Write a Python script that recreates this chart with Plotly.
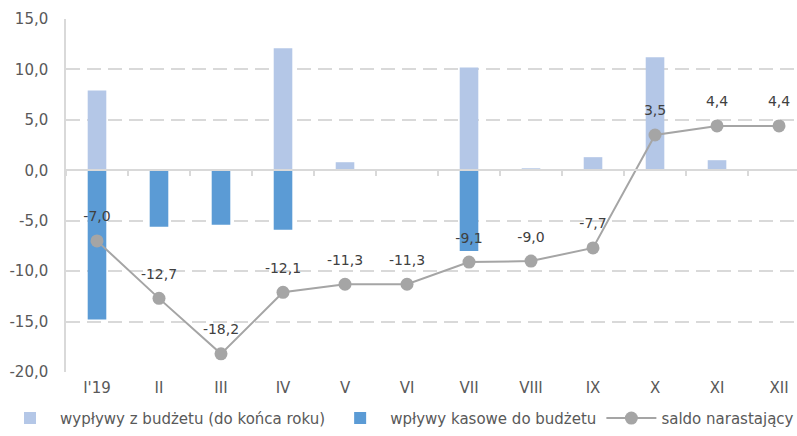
import plotly.graph_objects as go

categories = ["I'19", "II", "III", "IV", "V", "VI", "VII", "VIII", "IX", "X", "XI", "XII"]
outflows = [7.9, 0, 0, 12.1, 0.8, 0, 10.2, 0.2, 1.3, 11.2, 1.0, 0]
inflows = [-14.8, -5.6, -5.4, -5.9, 0, 0, -8.0, 0, 0, 0, 0, 0]
balance = [-7.0, -12.7, -18.2, -12.1, -11.3, -11.3, -9.1, -9.0, -7.7, 3.5, 4.4, 4.4]
y_tickvals = [15, 10, 5, 0, -5, -10, -15, -20]
y_ticktext = ["15,0", "10,0", "5,0", "0,0", "-5,0", "-10,0", "-15,0", "-20,0"]

FONT = "DejaVu Sans"
GRID = "#D9D9D9"
TXT = "#595959"

fig = go.Figure()
fig.add_trace(go.Bar(x=categories, y=outflows, name="wypływy z budżetu (do końca roku)",
                     marker=dict(color="#B4C7E7", line=dict(width=0)), width=0.3))
fig.add_trace(go.Bar(x=categories, y=inflows, name="wpływy kasowe do budżetu",
                     marker=dict(color="#5B9BD5", line=dict(width=0)), width=0.3))
fig.add_trace(go.Scatter(x=categories, y=balance, name="saldo narastający",
                         mode="lines+markers",
                         line=dict(color="#A5A5A5", width=2),
                         marker=dict(color="#A5A5A5", size=13),
                         cliponaxis=False))
# data labels (transparent larger markers push the text further above the points)
fig.add_trace(go.Scatter(x=categories, y=balance, mode="markers+text",
                         marker=dict(color="rgba(0,0,0,0)", size=24),
                         text=[f"{v:.1f}".replace(".", ",") for v in balance],
                         textposition="top center",
                         textfont=dict(family=FONT, size=14, color="#404040"),
                         showlegend=False, hoverinfo="skip", cliponaxis=False))
# dummy trace to draw boundary ticks on the zero line
fig.add_trace(go.Scatter(x=categories, y=[None] * len(categories), xaxis="x2",
                         showlegend=False, hoverinfo="skip"))

fig.update_layout(
    width=797, height=436,
    margin=dict(l=66, r=0, t=19, b=64),
    paper_bgcolor="white", plot_bgcolor="white",
    barmode="relative",
    font=dict(family=FONT, size=15, color=TXT),
    showlegend=True,
    legend=dict(orientation="h", x=-0.0876, xanchor="left", y=-0.178, yanchor="bottom",
                font=dict(family=FONT, size=15, color=TXT), itemwidth=50,
                traceorder="normal"),
    xaxis=dict(type="category", range=[-0.5, 11.29], showgrid=False, showline=False,
               ticks="", ticklabelstandoff=5, tickfont=dict(size=15, color=TXT)),
    xaxis2=dict(type="category", overlaying="x", matches="x", anchor="free",
                position=20 / 35, side="bottom", showticklabels=False, showgrid=False,
                showline=True, linecolor=GRID, linewidth=1.5,
                ticks="outside", tickson="boundaries", ticklen=5, tickcolor=GRID,
                tickwidth=1.5),
    yaxis=dict(range=[-20, 15], tickvals=y_tickvals, ticktext=y_ticktext,
               showgrid=True, gridcolor=GRID, gridwidth=1.5, griddash="14px,7px",
               zeroline=False, showline=True, linecolor=GRID, linewidth=1.5,
               ticks="", ticklabelstandoff=13, tickfont=dict(size=15, color=TXT)),
)

fig.write_html("out.html")
